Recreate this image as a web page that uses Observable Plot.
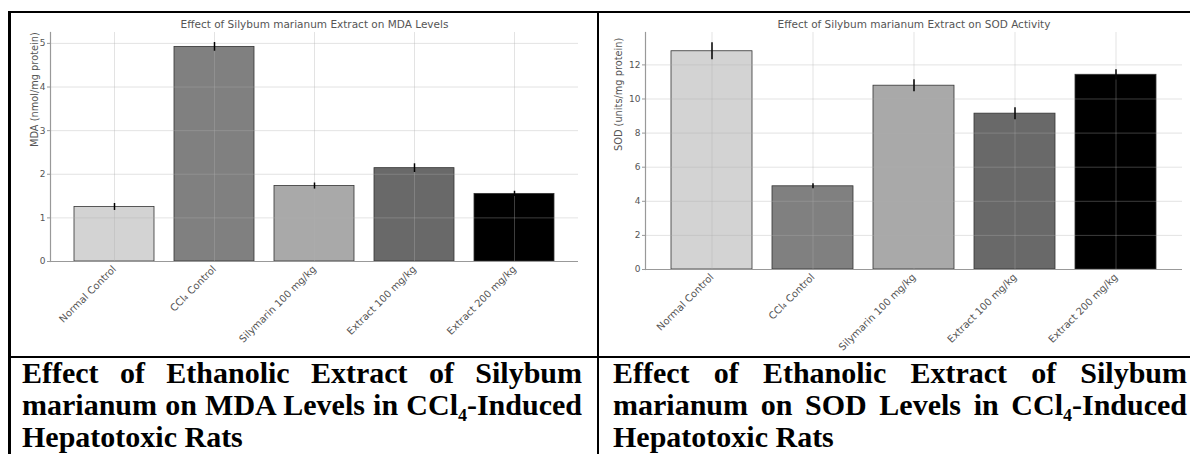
<!DOCTYPE html>
<html>
<head>
<meta charset="utf-8">
<script src="https://cdn.jsdelivr.net/npm/d3@7"></script>
<script src="https://cdn.jsdelivr.net/npm/@observablehq/plot@0.6"></script>
<style>
  html, body { margin: 0; padding: 0; background: #fff; width: 1190px; height: 454px; overflow: hidden; }
  .line { position: absolute; background: #000; }
  .chart { position: absolute; }
  .caption {
    position: absolute; font-family: "Liberation Serif", "Times New Roman", serif;
    font-weight: bold; font-size: 30px; line-height: 32px; color: #000;
    text-align: justify; margin: 0;
  }
</style>
</head>
<body>
<div class="line" style="left:8px; top:11px; width:1182px; height:1.5px;"></div>
<div class="line" style="left:8px; top:11px; width:3px; height:443px;"></div>
<div class="line" style="left:597px; top:11px; width:2px; height:443px;"></div>
<div class="line" style="left:8px; top:356px; width:1182px; height:2px;"></div>
<div id="mda" class="chart" style="left:10px; top:12px;"></div>
<div id="sod" class="chart" style="left:599px; top:12px;"></div>
<p class="caption" style="left:22px; top:357px; width:560px;">Effect of Ethanolic Extract of Silybum marianum on MDA Levels in CCl₄-Induced Hepatotoxic Rats</p>
<p class="caption" style="left:613px; top:357px; width:574px;">Effect of Ethanolic Extract of Silybum marianum on SOD Levels in CCl₄-Induced Hepatotoxic Rats</p>
<script>
const categories = ["Normal Control", "CCl₄ Control", "Silymarin 100 mg/kg", "Extract 100 mg/kg", "Extract 200 mg/kg"];
const barColors = ["#d3d3d3", "#808080", "#a9a9a9", "#696969", "#000000"];
const mdaValues = [1.25, 4.92, 1.73, 2.14, 1.55];
const mdaErrors = [0.08, 0.10, 0.07, 0.10, 0.06];
const sodValues = [12.8, 4.88, 10.78, 9.14, 11.42];
const sodErrors = [0.5, 0.15, 0.35, 0.35, 0.3];
const mdaTicks = [0, 1, 2, 3, 4, 5];
const sodTicks = [0, 2, 4, 6, 8, 10, 12];
const mdaTitle = "Effect of Silybum marianum Extract on MDA Levels";
const sodTitle = "Effect of Silybum marianum Extract on SOD Activity";
const mdaLabel = "MDA (nmol/mg protein)";
const sodLabel = "SOD (units/mg protein)";

function makeChart({values, errors, ticks, title, ylabel, width, marginLeft, marginRight, marginBottom, yMax, labelDx}) {
  const rows = categories.map((c, i) => ({cat: c, value: values[i], err: errors[i]}));
  const gridStroke = "#b0b0b0";
  return Plot.plot({
    width, height: 345,
    marginLeft, marginRight, marginTop: 20, marginBottom,
    style: {fontFamily: "'DejaVu Sans', sans-serif", fontSize: "9px", color: "#555", background: "transparent", overflow: "visible"},
    x: {domain: categories, paddingInner: 0.2, paddingOuter: 0.24, label: null, axis: null},
    y: {domain: [0, yMax], label: null, axis: null},
    color: {domain: categories, range: barColors},
    marks: [
      Plot.barY(rows, {x: "cat", y: "value", fill: "cat", stroke: "#333", strokeWidth: 0.8}),
      Plot.ruleY(ticks, {stroke: gridStroke, strokeOpacity: 0.35, strokeWidth: 1}),
      Plot.ruleX(categories, {stroke: gridStroke, strokeOpacity: 0.35, strokeWidth: 1}),
      Plot.ruleX(rows, {x: "cat", y1: d => d.value - d.err, y2: d => d.value + d.err, stroke: "#000", strokeWidth: 1.5}),
      Plot.frame({anchor: "left", stroke: "#999", strokeWidth: 1.2}),
      Plot.ruleY([0], {stroke: "#999", strokeWidth: 1.2}),
      Plot.axisY({ticks, tickFormat: "d", tickSize: 3, tickPadding: 2, stroke: "#999", color: "#555", fontSize: 9, label: null}),
      Plot.axisX({tickRotate: -45, tickSize: 0, tickPadding: 6, color: "#555", fontSize: 10, label: null}),
      Plot.text([title], {frameAnchor: "top", dy: -12, fill: "#555", fontSize: 10.5}),
      Plot.text([ylabel], {frameAnchor: "left", rotate: -90, dx: labelDx, fill: "#555", fontSize: 9.8})
    ]
  });
}

document.getElementById("mda").append(makeChart({
  values: mdaValues, errors: mdaErrors, ticks: mdaTicks, title: mdaTitle, ylabel: mdaLabel,
  width: 587, marginLeft: 40, marginRight: 19, marginBottom: 96, yMax: 5.25, labelDx: -16
}));
document.getElementById("sod").append(makeChart({
  values: sodValues, errors: sodErrors, ticks: sodTicks, title: sodTitle, ylabel: sodLabel,
  width: 589, marginLeft: 46, marginRight: 6, marginBottom: 88, yMax: 13.9, labelDx: -27
}));
</script>
</body>
</html>
